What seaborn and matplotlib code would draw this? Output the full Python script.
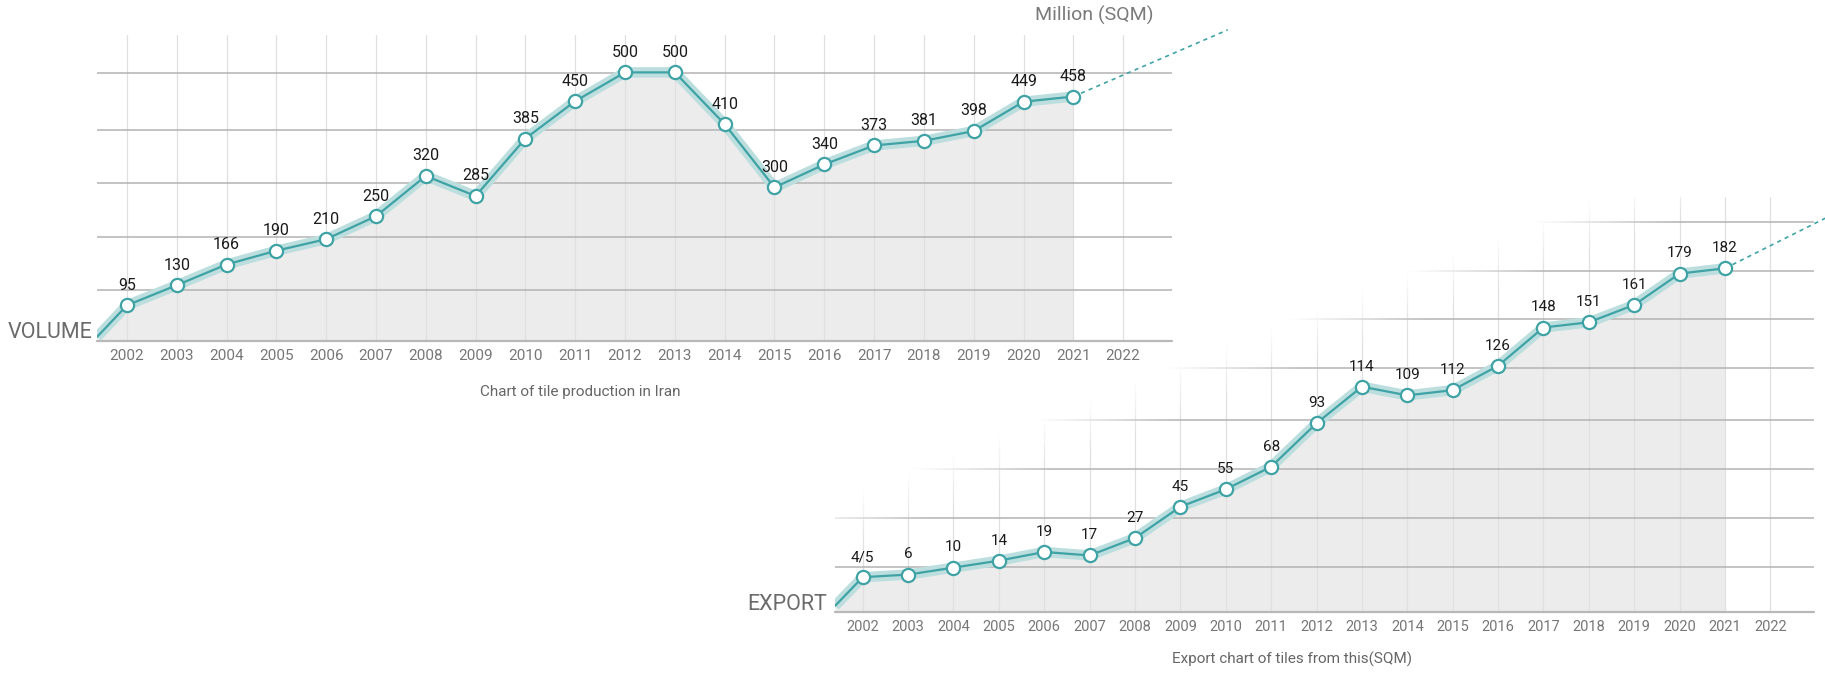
import numpy as np
import matplotlib.pyplot as plt
import seaborn as sns

# data
years = list(range(2002, 2022))
tick_years = list(range(2002, 2023))

volume = [95, 130, 166, 190, 210, 250, 320, 285, 385, 450,
          500, 500, 410, 300, 340, 373, 381, 398, 449, 458]
volume_labels = [str(v) for v in volume]
volume_start = 40            # value where the line enters at the left edge
volume_trend_x = [2021, 2024.1]
volume_trend = [458, 574]    # dotted continuation after 2021

export = [4.5, 6, 10, 14, 19, 17, 27, 45, 55, 68,
          93, 114, 109, 112, 126, 148, 151, 161, 179, 182]
export_labels = ['4/5', '6', '10', '14', '19', '17', '27', '45', '55', '68',
                 '93', '114', '109', '112', '126', '148', '151', '161', '179', '182']
export_start = -12
export_trend_x = [2021, 2023.3]
export_trend = [182, 212]

volume_grid = [122, 214, 308, 400, 499]
export_grid = [10.3, 38.5, 66.7, 94.8, 124.7, 152.9, 180.5, 208.6]

sns.set_style('white')
plt.rcParams['font.family'] = ['Roboto', 'DejaVu Sans']

TEAL = '#3fa3a5'
HALO = '#bddede'
FILL = '#ececec'

W, H = 1825, 674
fig = plt.figure(figsize=(W / 100, H / 100), dpi=100)


def px_axes(left, top, right, bottom):
    return fig.add_axes([left / W, 1 - bottom / H, (right - left) / W, (bottom - top) / H])


def draw(ax, vals, labels, start, trend_x, trend, grid, xlim, ylim, fs_tick, fs_lab):
    x0 = xlim[0]
    xs = [x0] + years
    ys = [start] + vals
    ax.set_xlim(*xlim)
    ax.set_ylim(*ylim)
    ax.fill_between(xs, ylim[0], ys, color=FILL, lw=0, zorder=1)
    for yr in tick_years:
        ax.axvline(yr, color='#e0e0e0', lw=0.9, zorder=1.5)
    for g in grid:
        ax.axhline(g, color='#b3b3b3', lw=1.1, zorder=2)
    ax.axhline(ylim[0], color='#b8b8b8', lw=1.6, zorder=2, clip_on=False)
    ax.plot(xs, ys, color=HALO, lw=7.5, solid_capstyle='butt', zorder=3)
    sns.lineplot(x=xs, y=ys, ax=ax, color=TEAL, lw=1.6, zorder=4)
    ax.plot(trend_x, trend, color=TEAL, lw=1.2, ls=(0, (2.5, 2.5)), zorder=4, clip_on=False)
    ax.plot(years, vals, 'o', ms=9.5, mfc='white', mec=TEAL, mew=1.6, zorder=5, clip_on=False)
    for yr, v, t in zip(years, vals, labels):
        ax.annotate(t, (yr, v), xytext=(0, 14.5), textcoords='offset points',
                    ha='center', va='center', fontsize=fs_lab, color='#1a1a1a', zorder=6)
    ax.set_xticks(tick_years)
    ax.set_xticklabels([str(y) for y in tick_years], fontsize=fs_tick, color='#777777')
    ax.tick_params(axis='x', length=0, pad=6)
    ax.set_yticks([])
    ax.set_xlabel('')
    ax.set_ylabel('')
    for s in ax.spines.values():
        s.set_visible(False)
    ax.set_facecolor('none')


# export chart first, the production chart sits on top of it
ax2 = px_axes(835, 197, 1814, 612)
draw(ax2, export, export_labels, export_start, export_trend_x, export_trend,
     export_grid, (2001.39, 2022.96), (-15.5, 223), 10.5, 11)

# white fade over the upper-left part of the export grid
aw, ah = 1814 - 835, 612 - 197
gx, gy = np.meshgrid(np.linspace(0, aw, 400), np.linspace(0, ah, 200))
u = gy - 0.4 * gx
fade = np.ones((200, 400, 4))
fade[..., 3] = np.clip((u - 56) / 55, 0, 1)
ax2.imshow(fade, extent=(0, 1, 0, 1), transform=ax2.transAxes, origin='lower',
           aspect='auto', interpolation='bilinear', zorder=2.6)
ax2.set_xlim(2001.39, 2022.96)
ax2.set_ylim(-15.5, 223)

ax1 = px_axes(97, 35, 1172, 341)
ax1.set_zorder(5)
draw(ax1, volume, volume_labels, volume_start, volume_trend_x, volume_trend,
     volume_grid, (2001.40, 2022.98), (33, 565), 11, 11.5)

fig.text(92 / W, 1 - 332 / H, 'VOLUME', fontsize=15.5, color='#6b6b6b', ha='right', va='center')
fig.text(827 / W, 1 - 605 / H, 'EXPORT', fontsize=15.5, color='#6b6b6b', ha='right', va='center')
fig.text(1094 / W, 1 - 15 / H, 'Million (SQM)', fontsize=14, color='#7a7a7a', ha='center', va='center')
fig.text(580 / W, 1 - 392 / H, 'Chart of tile production in Iran', fontsize=11, color='#666666',
         ha='center', va='center')
fig.text(1292 / W, 1 - 659 / H, 'Export chart of tiles from this(SQM)', fontsize=11, color='#666666',
         ha='center', va='center')

fig.savefig('out.png', dpi=100, facecolor='white')
